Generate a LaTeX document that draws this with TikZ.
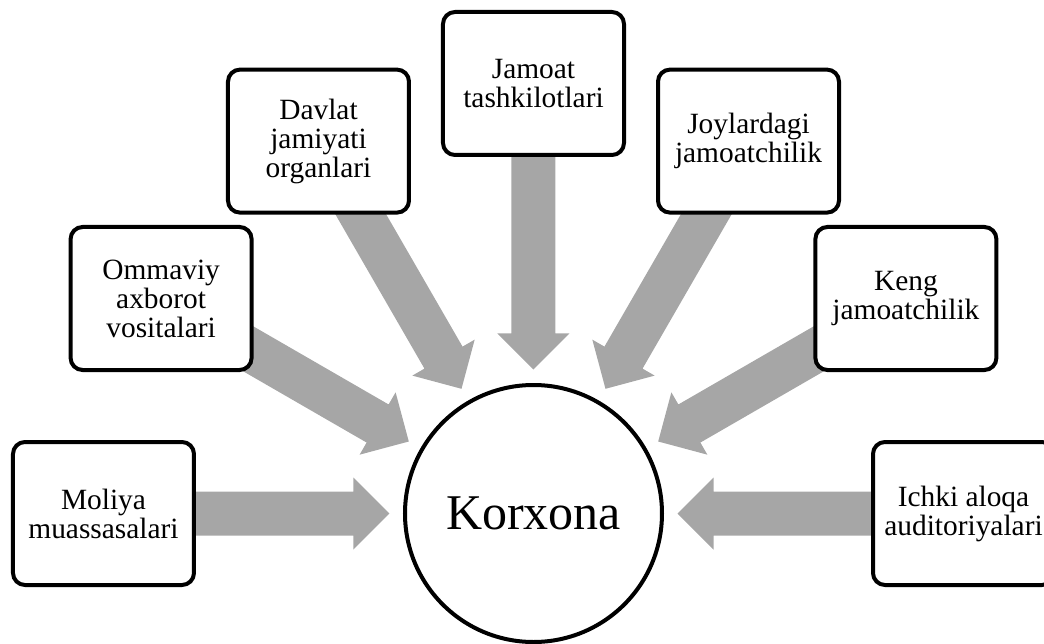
\documentclass[tikz,border=0pt]{standalone}
\usepackage{fontspec}
\setmainfont{Liberation Serif}
\usepackage{tikz}
\usetikzlibrary{calc}
\usetikzlibrary{backgrounds}
\definecolor{flechegris}{RGB}{166,166,166}

\begin{document}
\begin{tikzpicture}[x=0.5pt,y=0.5pt]

%%%%%%%%%%%%%%%%%%%%%%
%%%	 Def géométrie  %%%
%%%%%%%%%%%%%%%%%%%%%%

\def \rayonboite{430}
\def \pointe{72pt}
\def \basetete{90pt}
\def \demitete{18pt}
\def \demicorps{11pt}

%%%%%%%%%%%%%%%%%%%%%%
%%%	   Def style    %%%
%%%%%%%%%%%%%%%%%%%%%%

\def \heavy{2pt}

\tikzset{
	boite/.style={draw, line width=\heavy, rounded corners=6pt, fill=white,
		minimum width=90.5pt, minimum height=71.5pt, inner sep=2pt,
		align=center, font=\fontsize{14.7}{14.5}\selectfont},
	centre/.style={draw, circle, line width=\heavy, fill=white,
		minimum size=128.5pt, inner sep=0pt, font=\fontsize{25}{30}\selectfont},
	fleche/.style={fill=flechegris}
}

% Cadre de l'image
\useasboundingbox (-533.5,-129.5) rectangle (510.5,513.5);
\clip (-533.5,-129.5) rectangle (510.5,513.5);

%%%%%%%%%%%%%%%%%%%%%%
%%%	    Dessin      %%%
%%%%%%%%%%%%%%%%%%%%%%

% Le cercle central
\node[centre] (kor) at (0,0) {Korxona};

% Les boîtes autour, sur un demi-cercle
\node[boite] (mol) at (180:\rayonboite) {Moliya\\muassasalari};
\node[boite] (omm) at (150:\rayonboite) {Ommaviy\\axborot\\vositalari};
\node[boite] (dav) at (120:\rayonboite) {Davlat\\jamiyati\\organlari};
\node[boite] (jam) at (90:\rayonboite) {Jamoat\\tashkilotlari};
\node[boite] (joy) at (60:\rayonboite) {Joylardagi\\jamoatchilik};
\node[boite] (ken) at (30:\rayonboite) {Keng\\jamoatchilik};
\node[boite] (ich) at (0:\rayonboite) {Ichki aloqa\\auditoriyalari};

% Les flèches, derrière les boîtes
\begin{scope}[on background layer]
\foreach \n in {mol,omm,dav,jam,joy,ken,ich}{
	\coordinate (tip) at ($(kor.center)!\pointe!(\n.center)$);
	\coordinate (base) at ($(kor.center)!\basetete!(\n.center)$);
	\fill[fleche] (tip)
		-- ($(base)!\demitete!90:(\n.center)$)
		-- ($(base)!\demicorps!90:(\n.center)$)
		-- ($(\n.center)!\demicorps!-90:(base)$)
		-- ($(\n.center)!\demicorps!90:(base)$)
		-- ($(base)!\demicorps!-90:(\n.center)$)
		-- ($(base)!\demitete!-90:(\n.center)$)
		-- cycle;
}
\end{scope}

%%%%%%%%%%%%%%%%%%%%%%%%%%%%%%%%%%%%%%%%%

\end{tikzpicture}
\end{document}
